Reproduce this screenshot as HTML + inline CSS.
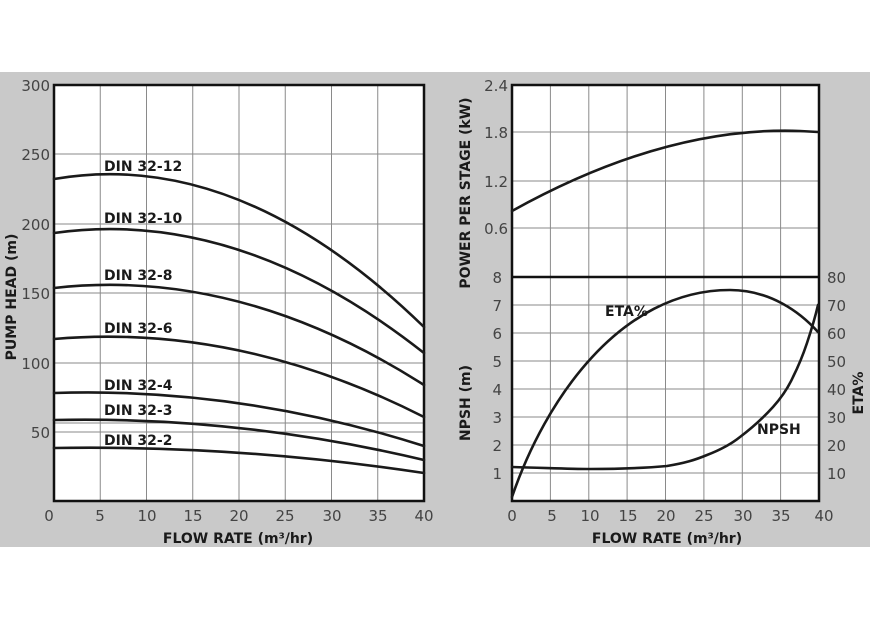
<!DOCTYPE html>
<html><head><meta charset="utf-8"><style>
html,body{margin:0;padding:0;background:#fff;}
svg{display:block;font-family:"DejaVu Sans","Liberation Sans",sans-serif;}
</style></head><body>
<svg width="870" height="619" viewBox="0 0 870 619" xmlns="http://www.w3.org/2000/svg">
<rect x="0" y="72" width="870" height="475" fill="#c9c9c9"/>
<rect x="54" y="85" width="370" height="416" fill="#fff"/>
<g stroke="#8a8a8a" stroke-width="1">
<line x1="100.25" y1="85" x2="100.25" y2="501"/><line x1="146.5" y1="85" x2="146.5" y2="501"/>
<line x1="192.75" y1="85" x2="192.75" y2="501"/><line x1="239" y1="85" x2="239" y2="501"/>
<line x1="285.25" y1="85" x2="285.25" y2="501"/><line x1="331.5" y1="85" x2="331.5" y2="501"/>
<line x1="377.75" y1="85" x2="377.75" y2="501"/>
<line x1="54" y1="154" x2="424" y2="154"/><line x1="54" y1="224" x2="424" y2="224"/>
<line x1="54" y1="293" x2="424" y2="293"/><line x1="54" y1="363" x2="424" y2="363"/>
<line x1="54" y1="423" x2="424" y2="423"/><line x1="54" y1="432" x2="424" y2="432"/>
</g>
<rect x="54" y="85" width="370" height="416" fill="none" stroke="#111" stroke-width="2.5"/>
<g fill="none" stroke="#1a1a1a" stroke-width="2.6" stroke-linecap="round">
<path d="M54,179 Q239,147 424,327"/>
<path d="M54,233 Q239,207 424,353"/>
<path d="M54,288 Q239,267 424,385"/>
<path d="M54,339 Q239,323 424,417"/>
<path d="M54,393 Q239,387 424,446"/>
<path d="M54,420 Q239,416 424,460"/>
<path d="M54,448 Q239,445 424,473"/>
</g>
<g font-weight="bold" font-size="14" fill="#1a1a1a">
<text x="104" y="171">DIN 32-12</text>
<text x="104" y="223">DIN 32-10</text>
<text x="104" y="280">DIN 32-8</text>
<text x="104" y="333">DIN 32-6</text>
<text x="104" y="390">DIN 32-4</text>
<text x="104" y="415">DIN 32-3</text>
<text x="104" y="445">DIN 32-2</text>
</g>
<g font-size="15" fill="#444" text-anchor="end">
<text x="50" y="91">300</text><text x="50" y="160">250</text><text x="50" y="230">200</text>
<text x="50" y="299">150</text><text x="50" y="369">100</text><text x="50" y="438">50</text>
</g>
<g font-size="15" fill="#444" text-anchor="middle">
<text x="49" y="521">0</text><text x="100" y="521">5</text><text x="147" y="521">10</text>
<text x="193" y="521">15</text><text x="239" y="521">20</text><text x="285" y="521">25</text>
<text x="332" y="521">30</text><text x="378" y="521">35</text><text x="424" y="521">40</text>
</g>
<text x="238" y="543" font-size="14" font-weight="bold" fill="#1a1a1a" text-anchor="middle">FLOW RATE (m³/hr)</text>
<text transform="translate(16,297) rotate(-90)" font-size="14" font-weight="bold" fill="#1a1a1a" text-anchor="middle">PUMP HEAD (m)</text>
<rect x="512" y="85" width="307" height="416" fill="#fff"/>
<g stroke="#8a8a8a" stroke-width="1">
<line x1="550.4" y1="85" x2="550.4" y2="501"/><line x1="588.8" y1="85" x2="588.8" y2="501"/>
<line x1="627.1" y1="85" x2="627.1" y2="501"/><line x1="665.5" y1="85" x2="665.5" y2="501"/>
<line x1="703.9" y1="85" x2="703.9" y2="501"/><line x1="742.3" y1="85" x2="742.3" y2="501"/>
<line x1="780.6" y1="85" x2="780.6" y2="501"/>
<line x1="512" y1="132" x2="819" y2="132"/><line x1="512" y1="181" x2="819" y2="181"/>
<line x1="512" y1="228" x2="819" y2="228"/>
<line x1="512" y1="305" x2="819" y2="305"/><line x1="512" y1="333" x2="819" y2="333"/>
<line x1="512" y1="361" x2="819" y2="361"/><line x1="512" y1="389" x2="819" y2="389"/>
<line x1="512" y1="417" x2="819" y2="417"/><line x1="512" y1="445" x2="819" y2="445"/>
<line x1="512" y1="473" x2="819" y2="473"/>
</g>
<rect x="512" y="85" width="307" height="416" fill="none" stroke="#111" stroke-width="2.5"/>
<line x1="512" y1="277" x2="819" y2="277" stroke="#111" stroke-width="2.5"/>
<g fill="none" stroke="#1a1a1a" stroke-width="2.6" stroke-linecap="round">
<path d="M512,211 Q665,126 800,131 L818,132"/>
<path d="M512,497 C545,400 620,290 730,290 C770,290 800,312 818,332"/>
<path d="M512,467 C550,468 570,469 590,469 C620,469 645,468 667,466 C685,463 695,460 707,455 C720,450 730,445 740,437 C752,428 763,418 773,407 C782,397 788,388 793,377 C799,365 803,355 807,343 C811,331 815,318 818,305"/>
</g>
<g font-weight="bold" font-size="14" fill="#1a1a1a">
<text x="605" y="316">ETA%</text>
<text x="757" y="434">NPSH</text>
</g>
<g font-size="15" fill="#444" text-anchor="end">
<text x="508" y="91">2.4</text><text x="508" y="138">1.8</text><text x="508" y="187">1.2</text>
<text x="508" y="234">0.6</text>
<text x="502" y="283">8</text><text x="502" y="311">7</text><text x="502" y="339">6</text>
<text x="502" y="367">5</text><text x="502" y="395">4</text><text x="502" y="423">3</text>
<text x="502" y="451">2</text><text x="502" y="479">1</text>
</g>
<g font-size="15" fill="#444">
<text x="827" y="283">80</text><text x="827" y="311">70</text><text x="827" y="339">60</text>
<text x="827" y="367">50</text><text x="827" y="395">40</text><text x="827" y="423">30</text>
<text x="827" y="451">20</text><text x="827" y="479">10</text>
</g>
<g font-size="15" fill="#444" text-anchor="middle">
<text x="512" y="521">0</text><text x="552" y="521">5</text><text x="590" y="521">10</text>
<text x="628" y="521">15</text><text x="666" y="521">20</text><text x="704" y="521">25</text>
<text x="743" y="521">30</text><text x="781" y="521">35</text><text x="824" y="521">40</text>
</g>
<text x="667" y="543" font-size="14" font-weight="bold" fill="#1a1a1a" text-anchor="middle">FLOW RATE (m³/hr)</text>
<text transform="translate(470,193) rotate(-90)" font-size="14" font-weight="bold" fill="#1a1a1a" text-anchor="middle">POWER PER STAGE (kW)</text>
<text transform="translate(470,403) rotate(-90)" font-size="14" font-weight="bold" fill="#1a1a1a" text-anchor="middle">NPSH (m)</text>
<text transform="translate(863,393) rotate(-90)" font-size="14" font-weight="bold" fill="#1a1a1a" text-anchor="middle">ETA%</text>
</svg>
</body></html>
